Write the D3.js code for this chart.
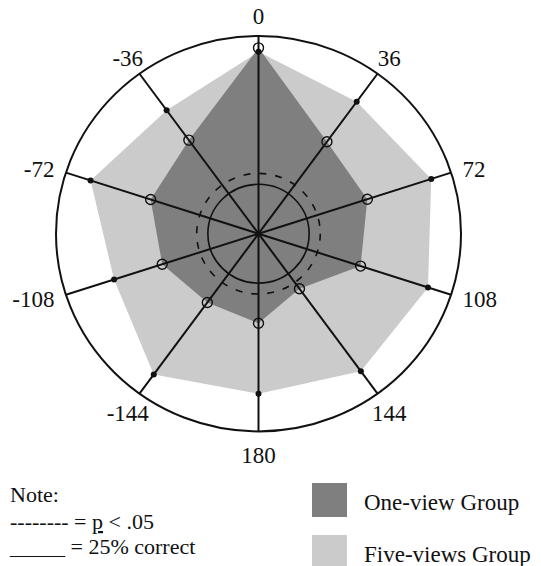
<!DOCTYPE html>
<html>
<head>
<meta charset="utf-8">
<script src="https://cdn.jsdelivr.net/npm/d3@7"></script>
<style>
  body { margin: 0; background: #fff; }
</style>
</head>
<body>
<div id="chart"></div>
<script>
// viewing angle of each spoke (degrees, clockwise from top)
var angles = [0, 36, 72, 108, 144, 180, -144, -108, -72, -36]
// percent correct
var oneView = [94, 57.5, 56.5, 53, 34.4, 45.3, 43, 50, 56, 58.5]
var fiveViews = [92, 82.5, 89.7, 88, 86, 81, 88, 75, 87.2, 77.2]
var chance = 25      // solid ring
var criterion = 30.5 // dashed ring, p < .05

var width = 541, height = 566
var cx = 258.5, cy = 233.7
var serif = '"Liberation Serif", "DejaVu Serif", "Times New Roman", serif'

var rx = d3.scaleLinear().domain([0, 100]).range([0, 202.5])
var ry = d3.scaleLinear().domain([0, 100]).range([0, 197.7])

function px(a, v) { return cx + rx(v) * Math.sin(a * Math.PI / 180) }
function py(a, v) { return cy - ry(v) * Math.cos(a * Math.PI / 180) }

var svg = d3.select('#chart').append('svg').attr('width', width).attr('height', height)
  .attr('font-family', serif)

function polyPoints(vals) {
  return angles.map(function(a, i) { return [px(a, vals[i]), py(a, vals[i])].join(',') }).join(' ')
}

svg.append('polygon').attr('points', polyPoints(fiveViews)).attr('fill', '#cbcbcb')
svg.append('polygon').attr('points', polyPoints(oneView)).attr('fill', '#7f7f7f')

// rings
svg.append('ellipse').attr('cx', cx).attr('cy', cy).attr('rx', rx(chance)).attr('ry', ry(chance))
  .attr('fill', 'none').attr('stroke', '#111').attr('stroke-width', 1.6)
svg.append('ellipse').attr('cx', cx).attr('cy', cy).attr('rx', rx(criterion)).attr('ry', ry(criterion))
  .attr('fill', 'none').attr('stroke', '#111').attr('stroke-width', 1.6).attr('stroke-dasharray', '7,9')

// spokes
svg.append('g').selectAll('line').data(angles).join('line')
  .attr('x1', cx).attr('y1', cy)
  .attr('x2', function(a) { return px(a, 100) })
  .attr('y2', function(a) { return py(a, 100) })
  .attr('stroke', '#111').attr('stroke-width', 2)

svg.append('ellipse').attr('cx', cx).attr('cy', cy).attr('rx', rx(100)).attr('ry', ry(100))
  .attr('fill', 'none').attr('stroke', '#111').attr('stroke-width', 2)

svg.append('circle').attr('cx', cx).attr('cy', cy).attr('r', 3).attr('fill', '#111')

// markers
svg.append('g').selectAll('circle').data(angles).join('circle')
  .attr('cx', function(a, i) { return px(a, fiveViews[i]) })
  .attr('cy', function(a, i) { return py(a, fiveViews[i]) })
  .attr('r', 3).attr('fill', '#111')

svg.append('g').selectAll('circle').data(angles).join('circle')
  .attr('cx', function(a, i) { return px(a, oneView[i]) })
  .attr('cy', function(a, i) { return py(a, oneView[i]) })
  .attr('r', 5).attr('fill', 'none').attr('stroke', '#111').attr('stroke-width', 1.4)

// angle labels
svg.append('g').selectAll('text').data(angles).join('text')
  .attr('x', function(a) {
    var s = Math.sin(a * Math.PI / 180)
    var off = Math.abs(s) > 0.9 ? 12 : 20
    return cx + (rx(100) + off) * s
  })
  .attr('y', function(a) {
    var s = Math.sin(a * Math.PI / 180), c = Math.cos(a * Math.PI / 180)
    var off = Math.abs(s) > 0.9 ? 12 : (c < 0 ? 24 : 20)
    return cy - (ry(100) + off) * c
  })
  .attr('dy', '0.35em')
  .attr('text-anchor', function(a) {
    var s = Math.sin(a * Math.PI / 180)
    if (s > 0.9) return 'start'
    if (s < -0.9) return 'end'
    return 'middle'
  })
  .attr('font-size', 23)
  .attr('fill', '#111')
  .text(function(a) { return a })

// note
var note = svg.append('g').attr('font-size', 22).attr('fill', '#111')
note.append('text').attr('x', 10).attr('y', 502).text('Note:')
var t2 = note.append('text').attr('x', 10).attr('y', 529)
t2.append('tspan').text('-------- = ')
t2.append('tspan').attr('text-decoration', 'underline').text('p')
t2.append('tspan').text(' < .05')
note.append('text').attr('x', 10).attr('y', 554).text('_____ = 25% correct')

// legend
var groups = ['One-view Group', 'Five-views Group']
var fills = ['#7f7f7f', '#cbcbcb']
var leg = svg.append('g').selectAll('g').data(groups).join('g')
  .attr('transform', function(d, i) { return 'translate(312,' + (483 + i * 52) + ')' })
leg.append('rect').attr('width', 35).attr('height', 34).attr('fill', function(d, i) { return fills[i] })
leg.append('text').attr('x', 52).attr('y', 27).attr('font-size', 23).attr('fill', '#111')
  .text(function(d) { return d })
</script>
</body>
</html>
